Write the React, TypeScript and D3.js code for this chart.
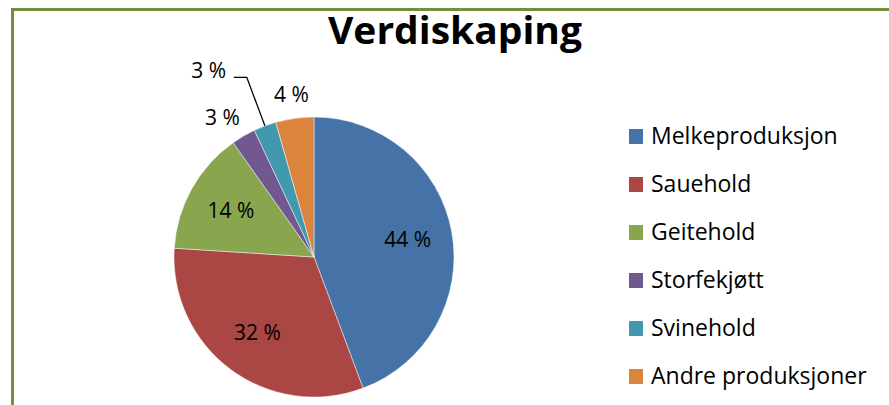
import * as d3 from 'd3';
import { useEffect, useRef } from 'react';

const categories = ['Melkeproduksjon', 'Sauehold', 'Geitehold', 'Storfekjøtt', 'Svinehold', 'Andre produksjoner'];
const shares = [44.3, 31.7, 14.2, 2.8, 2.6, 4.4];
const colors = ['#4572A7', '#AA4643', '#89A54E', '#71588F', '#4198AF', '#DB843D'];
const labelKinds = ['inside', 'inside', 'inside', 'outside', 'leader', 'outside'];

const WIDTH = 889;
const HEIGHT = 405;
const FONT = '"Open Sans", "Noto Sans", sans-serif';

export default function App() {
    const svgRef = useRef<SVGSVGElement | null>(null);

    useEffect(() => {
        if (!svgRef.current) {
            return;
        }
        const svg = d3.select(svgRef.current);
        svg.selectAll('*').remove();

        svg.append('rect').attr('width', WIDTH).attr('height', HEIGHT).attr('fill', '#fff');

        // chart frame (only top and left edges are in view)
        svg.append('path')
            .attr('d', `M12.5,${HEIGHT} L12.5,9.5 L${WIDTH},9.5`)
            .attr('fill', 'none')
            .attr('stroke', '#718F3D')
            .attr('stroke-width', 3);

        svg.append('text')
            .attr('x', 455)
            .attr('y', 44)
            .attr('text-anchor', 'middle')
            .attr('font-family', FONT)
            .attr('font-weight', 700)
            .attr('font-size', 38)
            .attr('textLength', 254)
            .attr('lengthAdjust', 'spacingAndGlyphs')
            .attr('fill', '#000')
            .text('Verdiskaping');

        const cx = 314;
        const cy = 257;
        const r = 140;

        const data = categories.map((name, i) => ({ name, value: shares[i], color: colors[i], kind: labelKinds[i] }));
        const pie = d3.pie<(typeof data)[number]>().sort(null).value((d) => d.value);
        const arcs = pie(data);
        const arc = d3.arc<d3.PieArcDatum<(typeof data)[number]>>().innerRadius(0).outerRadius(r);
        const at = (rad: number) =>
            d3.arc<d3.PieArcDatum<(typeof data)[number]>>().innerRadius(rad).outerRadius(rad);

        const g = svg.append('g').attr('transform', `translate(${cx},${cy})`);

        g.selectAll('path.slice')
            .data(arcs)
            .join('path')
            .attr('class', 'slice')
            .attr('d', arc)
            .attr('fill', (d) => d.data.color)
            .attr('stroke', '#ffffff')
            .attr('stroke-opacity', 0.6)
            .attr('stroke-width', 0.8);

        const fmt = (v: number) => `${Math.round(v)} %`;

        arcs.forEach((d) => {
            let pos: [number, number];
            if (d.data.kind === 'inside') {
                pos = at(r * 0.68).centroid(d) as [number, number];
            } else if (d.data.kind === 'outside') {
                pos = at(r * 1.17).centroid(d) as [number, number];
                // Excel hugs the slice with the label's near corner
                pos = [pos[0] + (pos[0] < -40 ? -9 : 0), pos[1] + (pos[0] < -40 ? 2 : 0)];
            } else {
                const edge = at(r).centroid(d) as [number, number];
                const elbow = at(r * 1.37).centroid(d) as [number, number];
                const end: [number, number] = [elbow[0] - 13, elbow[1]];
                g.append('path')
                    .attr('d', d3.line()([edge, elbow, end]))
                    .attr('fill', 'none')
                    .attr('stroke', '#000')
                    .attr('stroke-width', 1.3);
                pos = [end[0] - 25, end[1] - 6];
            }
            g.append('text')
                .attr('x', pos[0])
                .attr('y', pos[1] + 7)
                .attr('text-anchor', 'middle')
                .attr('font-family', FONT)
                .attr('font-size', 21)
                .attr('fill', '#000')
                .text(fmt(d.data.value));
        });

        // legend
        const rowY = d3.scalePoint<string>().domain(categories).range([144, 384]);
        const legend = svg.append('g');
        const rows = legend
            .selectAll('g')
            .data(data)
            .join('g')
            .attr('transform', (d) => `translate(629,${rowY(d.name)})`);
        rows.append('rect')
            .attr('x', 0)
            .attr('y', -15)
            .attr('width', 14)
            .attr('height', 15)
            .attr('fill', (d) => d.color);
        rows.append('text')
            .attr('x', 22)
            .attr('y', 0)
            .attr('font-family', FONT)
            .attr('font-size', 23)
            .attr('fill', '#000')
            .text((d) => d.name);
    }, []);

    return (
        <svg
            ref={svgRef}
            width={WIDTH}
            height={HEIGHT}
            style={{ position: 'absolute', left: 0, top: 0, display: 'block' }}
        />
    );
}
